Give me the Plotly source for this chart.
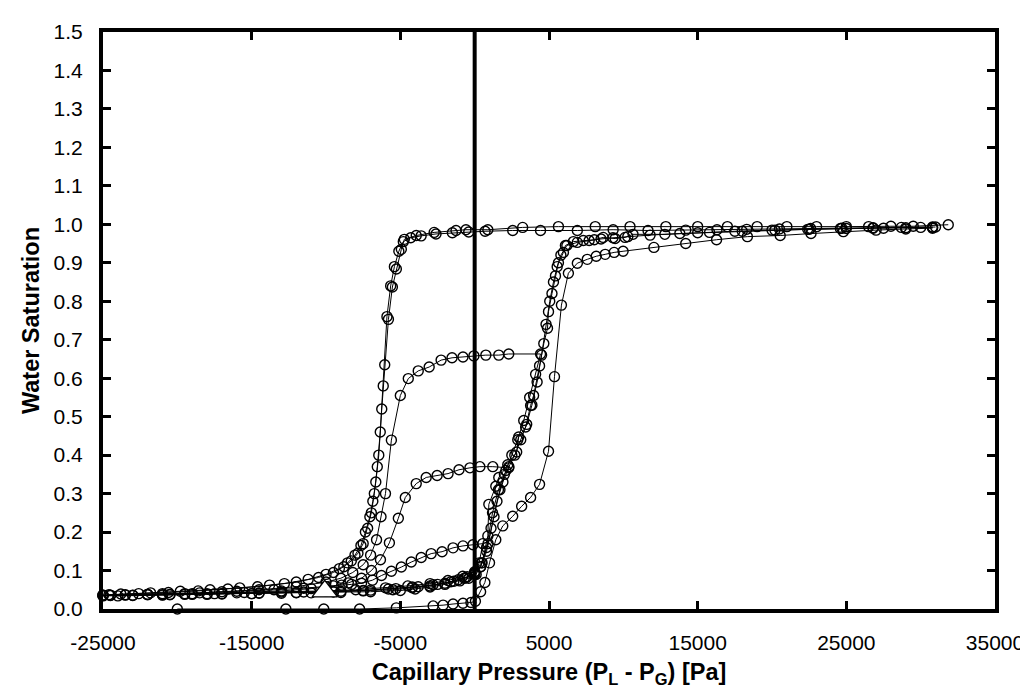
import plotly.graph_objects as go

# ---------------- data ----------------
# main drainage curves
d1_x = [31856, 29500, 28000, 26500, 25000, 23000, 21000, 19000, 17000, 15000, 12860, 10450, 8110, 5635, 3227, 886,
        -585, -1254, -2726, -3930, -4732, -4933, -5268, -5535, -5800, -6050, -6250, -6450, -6650, -6850, -7050,
        -7350, -7650, -8050, -8550, -9100, -10000, -11200, -12800, -14600, -16600, -18600, -20600, -22600, -24600]
d1_y = [0.999, 0.995, 0.995, 0.994, 0.994, 0.994, 0.994, 0.994, 0.994, 0.994, 0.994, 0.994, 0.994, 0.994, 0.992, 0.986,
        0.986, 0.984, 0.979, 0.971, 0.961, 0.935, 0.884, 0.837, 0.753, 0.635, 0.52, 0.40, 0.33, 0.28, 0.24,
        0.20, 0.165, 0.14, 0.12, 0.105, 0.09, 0.077, 0.066, 0.058, 0.052, 0.047, 0.043, 0.040, 0.037]

d2_x = [30800, 28700, 26800, 24700, 22600, 20500, 18300, 16300, 14200, 11660, 9314, 6906, 4431, 2559, 700,
        -400, -1500, -2600, -3600, -4300, -4800, -5100, -5400, -5650, -5900, -6150, -6350, -6550, -6750, -6950,
        -7200, -7500, -7850, -8300, -8800, -9500, -10500, -12000, -13800, -15800, -17800, -19800, -21800, -23800, -25000]
d2_y = [0.993, 0.992, 0.991, 0.990, 0.989, 0.988, 0.987, 0.986, 0.985, 0.984, 0.986, 0.984, 0.984, 0.984, 0.982,
        0.980, 0.978, 0.975, 0.97, 0.965, 0.955, 0.93, 0.89, 0.84, 0.76, 0.58, 0.46, 0.37, 0.30, 0.25,
        0.21, 0.17, 0.145, 0.125, 0.11, 0.095, 0.082, 0.07, 0.062, 0.055, 0.05, 0.046, 0.042, 0.039, 0.036]

# main imbibition curves
i1_x = [-25000, -23000, -21000, -19000, -17000, -15000, -13000, -11000, -9000, -7000, -5000, -4000, -3000, -2000,
        -1000, -400, 100, 500, 886, 953, 1421, 1622, 2224, 2826, 2960, 3428, 3763, 3963, 4365, 4650, 4900, 4967,
        5200, 5435, 5635, 5970, 6104, 6639, 7308, 8043, 8645, 9448, 10117, 10652, 12793, 15000, 17500, 20000,
        22500, 25000, 27500, 30000, 31000]
i1_y = [0.035, 0.036, 0.037, 0.038, 0.039, 0.040, 0.041, 0.042, 0.043, 0.045, 0.048, 0.052, 0.057, 0.064,
        0.073, 0.080, 0.090, 0.12, 0.19, 0.272, 0.319, 0.342, 0.375, 0.408, 0.447, 0.473, 0.529, 0.555, 0.632, 0.69, 0.73, 0.773,
        0.82, 0.866, 0.90, 0.927, 0.945, 0.955, 0.958, 0.960, 0.966, 0.963, 0.966, 0.974, 0.974, 0.978, 0.982, 0.985,
        0.987, 0.989, 0.990, 0.992, 0.993]

i2_x = [-24500, -22000, -19500, -17000, -14500, -12000, -9500, -7500, -5500, -4200, -3000, -2000, -1100, -500,
        0, 400, 800, 1100, 1500, 1900, 2300, 2700, 3100, 3500, 3850, 4200, 4500, 4800, 5050, 5300, 5550, 5800,
        6200, 6900, 7700, 8500, 9300, 10300, 11800, 13800, 15800, 18000, 20200, 22400, 24600, 26800, 29000, 30800]
i2_y = [0.036, 0.037, 0.038, 0.040, 0.041, 0.043, 0.045, 0.047, 0.050, 0.055, 0.060, 0.067, 0.076, 0.084,
        0.094, 0.11, 0.15, 0.21, 0.28, 0.33, 0.37, 0.40, 0.44, 0.48, 0.53, 0.59, 0.66, 0.74, 0.80, 0.85, 0.89, 0.92,
        0.945, 0.953, 0.958, 0.962, 0.965, 0.968, 0.972, 0.976, 0.979, 0.982, 0.985, 0.987, 0.989, 0.990, 0.991, 0.992]

# first wetting from dry state (shifted imbibition)
w0_x = [-20000, -12700, -10150, -7740, -5270, -2793, -2124, -1455, -786, -250, 50, 400, 686, 1000, 1421, 1890,
        2558, 3160, 3763, 4365, 4967, 5368, 5836, 6304, 6906, 7575, 8177, 8779, 9381, 9983, 12057, 14197, 16271,
        18344, 20552, 22625, 24800, 27000, 29000, 30800]
w0_y = [0.000, 0.000, 0.000, 0.000, 0.003, 0.008, 0.010, 0.013, 0.015, 0.017, 0.020, 0.045, 0.069, 0.12, 0.18, 0.216,
        0.241, 0.267, 0.29, 0.324, 0.41, 0.604, 0.79, 0.873, 0.899, 0.909, 0.917, 0.922, 0.927, 0.930, 0.940, 0.950, 0.960,
        0.968, 0.971, 0.976, 0.981, 0.985, 0.988, 0.990]

# scanning loop reversed at S = 0.66
s66_x = [-25000, -22000, -19000, -16000, -13000, -10000, -8000, -6000, -4500, -3000, -1800, -800, 0, 450, 900,
         1300, 1700, 2100, 2500, 2900, 3300, 3700, 4100, 4431,
         2291, 1622, 752, -50, -786, -1522, -2258, -3060, -3796, -4465, -5000, -5602, -6000, -6300, -6600,
         -7000, -7500, -8200, -9000, -10000, -12000, -14500, -17000, -19500, -22000, -24500]
s66_y = [0.036, 0.038, 0.040, 0.042, 0.044, 0.047, 0.050, 0.055, 0.060, 0.066, 0.074, 0.085, 0.097, 0.12, 0.17,
         0.24, 0.31, 0.36, 0.40, 0.44, 0.49, 0.55, 0.61, 0.663,
         0.663, 0.660, 0.660, 0.658, 0.655, 0.653, 0.647, 0.629, 0.619, 0.599, 0.555, 0.439, 0.30, 0.24, 0.18,
         0.14, 0.115, 0.095, 0.080, 0.070, 0.058, 0.050, 0.045, 0.040, 0.038, 0.035]

# scanning loop reversed at S = 0.37
s37_x = [-24000, -21000, -18000, -15000, -12000, -9500, -7500, -5800, -4200, -2800, -1600, -700, 0, 400, 800,
         1200, 1600, 2000, 2291,
         1220, 351, -318, -1054, -1790, -2525, -3261, -3930, -4666, -5134, -5736, -6337, -6940, -7609, -8500,
         -9500, -11000, -13000, -15500, -18000, -20500, -23000, -25000]
s37_y = [0.034, 0.036, 0.038, 0.040, 0.042, 0.045, 0.048, 0.052, 0.057, 0.063, 0.071, 0.080, 0.090, 0.11, 0.16,
         0.25, 0.31, 0.35, 0.367,
         0.370, 0.370, 0.367, 0.362, 0.352, 0.347, 0.342, 0.326, 0.290, 0.236, 0.172, 0.128, 0.100, 0.080, 0.068,
         0.060, 0.053, 0.047, 0.043, 0.040, 0.037, 0.035, 0.034]

# scanning loop reversed at S = 0.17
s17_x = [-23500, -20500, -17500, -14500, -11500, -9000, -7000, -5300, -3800, -2500, -1400, -600, 0, 300, 551,
         -117, -786, -1455, -2191, -2926, -3595, -4264, -4933, -5602, -6271, -6873, -7609, -8278, -8946, -10000,
         -11500, -13500, -16000, -18500, -21000, -23500]
s17_y = [0.036, 0.038, 0.040, 0.042, 0.044, 0.046, 0.049, 0.053, 0.058, 0.064, 0.072, 0.081, 0.092, 0.12, 0.170,
         0.167, 0.164, 0.159, 0.149, 0.144, 0.134, 0.122, 0.109, 0.098, 0.087, 0.075, 0.067, 0.064, 0.062, 0.058,
         0.054, 0.050, 0.046, 0.042, 0.040, 0.037]

# initial state marker
tri_x = [-10083]
tri_y = [0.046]

# axis ticks
x_tickvals = [-25000, -15000, -5000, 5000, 15000, 25000, 35000]
x_ticktext = ["-25000", "-15000", "-5000", "5000", "15000", "25000", "35000"]
y_tickvals = [0.0, 0.1, 0.2, 0.3, 0.4, 0.5, 0.6, 0.7, 0.8, 0.9, 1.0, 1.1, 1.2, 1.3, 1.4, 1.5]

# ---------------- figure ----------------
FONT = "Liberation Sans, Arial, sans-serif"
fig = go.Figure()

series = [(d1_x, d1_y), (d2_x, d2_y), (i1_x, i1_y), (i2_x, i2_y), (w0_x, w0_y),
          (s66_x, s66_y), (s37_x, s37_y), (s17_x, s17_y)]
for sx, sy in series:
    fig.add_trace(go.Scatter(
        x=sx, y=sy, mode="lines+markers",
        line=dict(color="black", width=1),
        marker=dict(symbol="circle-open", size=10, color="black", line=dict(width=1.4, color="black")),
        cliponaxis=False, showlegend=False, hoverinfo="x+y"))

fig.add_trace(go.Scatter(
    x=tri_x, y=tri_y, mode="markers",
    marker=dict(symbol="triangle-up", size=22, color="white", line=dict(width=1.3, color="black")),
    cliponaxis=False, showlegend=False))

# vertical reference line at zero capillary pressure
fig.add_shape(type="line", x0=0, x1=0, y0=0, y1=1.5, xref="x", yref="y",
              line=dict(color="black", width=4), layer="above")

fig.update_layout(
    width=1028, height=690,
    margin=dict(l=95, r=36, t=17, b=89),
    paper_bgcolor="white", plot_bgcolor="white",
    font=dict(family=FONT, size=21, color="black"),
)
fig.update_xaxes(
    range=[-25000, 35000], tickvals=x_tickvals, ticktext=x_ticktext,
    showline=True, linewidth=4, linecolor="black", mirror="ticks",
    ticks="inside", ticklen=8, tickwidth=3, tickcolor="black",
    showgrid=False, zeroline=False, ticklabelstandoff=12,
    title=dict(text="<b>Capillary Pressure (P<sub>L</sub> - P<sub>G</sub>) [Pa]</b>",
               font=dict(family=FONT, size=23.5), standoff=11),
)
fig.update_yaxes(
    range=[0, 1.5], tickvals=y_tickvals, tickformat=".1f",
    showline=True, linewidth=4, linecolor="black", mirror="ticks",
    ticks="inside", ticklen=8, tickwidth=3, tickcolor="black",
    showgrid=False, zeroline=False, ticklabelstandoff=12,
    title=dict(text="<b>Water Saturation</b>", font=dict(family=FONT, size=23.5), standoff=8),
)

fig.write_html("out.html")
